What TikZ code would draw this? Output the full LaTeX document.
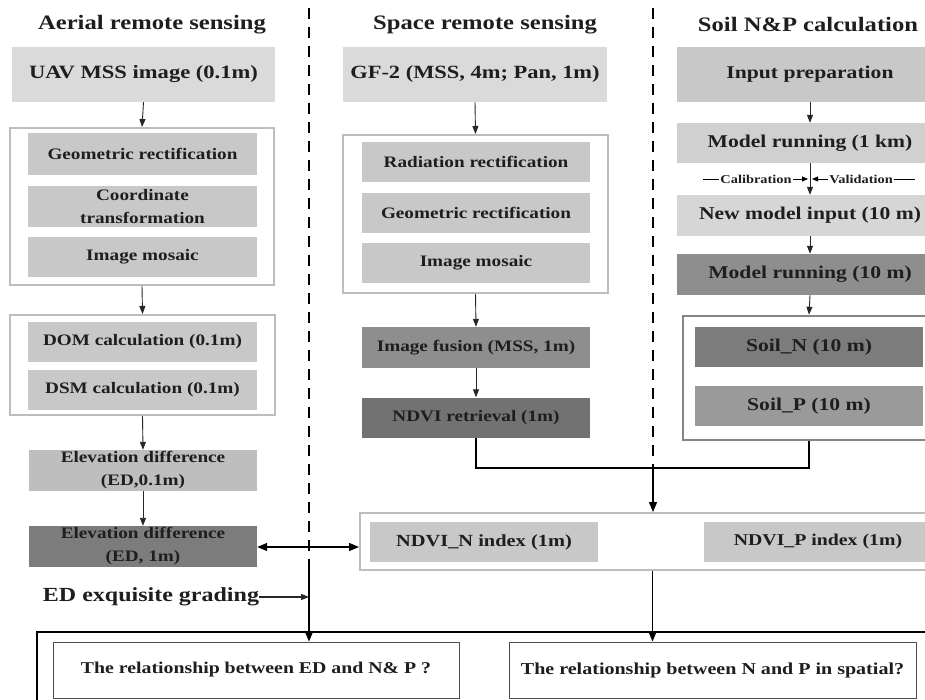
\documentclass[tikz,border=0pt]{standalone}
\usepackage{fontspec}
\setmainfont{Liberation Serif}[FakeStretch=1.2]
\usetikzlibrary{arrows.meta,calc}
\definecolor{txt}{HTML}{1E1E1E}
\definecolor{gA}{HTML}{DADADA}
\definecolor{gB}{HTML}{C8C8C8}
\definecolor{gC}{HTML}{BEBEBE}
\definecolor{gD}{HTML}{8E8E8E}
\definecolor{gE}{HTML}{727272}
\definecolor{gF}{HTML}{7C7C7C}
\definecolor{gG}{HTML}{9A9A9A}
\definecolor{grpc}{HTML}{BDBDBD}
\definecolor{grpd}{HTML}{858585}
\tikzset{
  box/.style={draw=none, inner sep=0pt, align=center, text=txt,
    font=\fontsize{16}{19}\selectfont\bfseries},
  bigbox/.style={box, font=\fontsize{18}{21}\selectfont\bfseries},
  grp/.style={draw=grpc, line width=2pt, inner sep=0pt},
  hdr/.style={inner sep=0pt, text=txt, font=\fontsize{20.5}{24}\selectfont\bfseries},
  qbox/.style={draw=black!70, line width=0.9pt, inner sep=0pt, text=txt,
    font=\fontsize{16.5}{19}\selectfont\bfseries},
  arr/.style={draw=black!85, line width=0.9pt, -{Triangle[length=8pt,width=6pt]}},
  bigarr/.style={draw=black, line width=1.4pt, -{Triangle[length=10pt,width=8pt]}},
  dline/.style={draw=black, line width=1.3pt, dash pattern=on 11pt off 8pt},
  small/.style={inner sep=1pt, text=txt, font=\fontsize{12}{14}\selectfont\bfseries},
  twoline/.style={font=\fontsize{16}{23}\selectfont\bfseries}
}
\begin{document}
\begin{tikzpicture}[x=1pt,y=-1pt]
\useasboundingbox (0,0) rectangle (925,700);
\clip (0,0) rectangle (925,700);
\fill[white] (0,0) rectangle (925,700);

% headers
\node[hdr] (h1) at (152,25) {Aerial remote sensing};
\node[hdr] (h2) at (485,25) {Space remote sensing};
\node[hdr] (h3) at (808,25) {Soil N\&P calculation};

% dashed separators
\coordinate (d1top) at (309,8);
\coordinate (d1mid) at (309,567);
\coordinate (d2top) at (653,8);
\coordinate (d2j) at (653,468);
\draw[dline] (d1top) -- (d1mid);
\draw[dline] (d2top) -- (d2j);

% ---------- left column ----------
\node[bigbox, fill=gA, minimum width=263, minimum height=55, font=\fontsize{18.8}{22}\selectfont\bfseries] (uav) at (143.5,74.5) {UAV MSS image (0.1m)};
\node[grp, minimum width=264, minimum height=157] (grp1) at (142,206.5) {};
\node[box, fill=gB, minimum width=229, minimum height=42] (geo1) at (142.5,154) {Geometric rectification};
\node[box, fill=gB, minimum width=229, minimum height=41, twoline] (coord) at (142.5,206.5) {Coordinate\\transformation};
\node[box, fill=gB, minimum width=229, minimum height=40] (mos1) at (142.5,257) {Image mosaic};
\node[grp, minimum width=265, minimum height=100] (grp2) at (142.5,365) {};
\node[box, fill=gB, minimum width=229, minimum height=40] (dom) at (142.5,342) {DOM calculation (0.1m)};
\node[box, fill=gB, minimum width=229, minimum height=40] (dsm) at (142.5,390) {DSM calculation (0.1m)};
\node[box, fill=gC, minimum width=228, minimum height=41, twoline] (ed01) at (143,470.5) {Elevation difference\\(ED,0.1m)};
\node[box, fill=gF, minimum width=228, minimum height=41, twoline] (ed1) at (143,546.5) {Elevation difference\\(ED, 1m)};
\node[hdr, font=\fontsize{20}{24}\selectfont\bfseries] (edg) at (151,597) {ED exquisite grading};

% ---------- middle column ----------
\node[bigbox, fill=gA, minimum width=264, minimum height=55, font=\fontsize{18.7}{22}\selectfont\bfseries] (gf2) at (475,74.5) {GF-2 (MSS, 4m; Pan, 1m)};
\node[grp, minimum width=265, minimum height=158] (grp3) at (475.5,214) {};
\node[box, fill=gB, minimum width=228, minimum height=40] (rad) at (476,162) {Radiation rectification};
\node[box, fill=gB, minimum width=228, minimum height=40] (geo2) at (476,213) {Geometric rectification};
\node[box, fill=gB, minimum width=228, minimum height=40] (mos2) at (476,263) {Image mosaic};
\node[box, fill=gD, minimum width=228, minimum height=41] (fus) at (476,347.5) {Image fusion (MSS, 1m)};
\node[box, fill=gE, minimum width=228, minimum height=40] (ndvir) at (476,417.5) {NDVI retrieval (1m)};

% ---------- right column ----------
\node[bigbox, fill=gB, minimum width=266, minimum height=55] (inp) at (810,74.5) {Input preparation};
\node[bigbox, fill=gB!85!white, minimum width=266, minimum height=40] (mr1) at (810,143) {Model running (1 km)};
\node[bigbox, fill=gB!75!white, minimum width=266, minimum height=41] (nmi) at (810,215.5) {New model input (10 m)};
\node[bigbox, fill=gD, minimum width=266, minimum height=41] (mr10) at (810,274.5) {Model running (10 m)};
\node[grp, draw=grpd, line width=2.5pt, minimum width=252, minimum height=124] (grp4) at (809,378) {};
\node[bigbox, fill=gF, minimum width=228, minimum height=40] (soiln) at (809,347) {Soil\_N (10 m)};
\node[bigbox, fill=gG, minimum width=228, minimum height=40] (soilp) at (809,406) {Soil\_P (10 m)};

\node[small] (cal) at (756,179) {Calibration};
\node[small] (val) at (861,179) {Validation};
\coordinate (calL) at (703,179);
\coordinate (valR) at (915,179);
\coordinate (calT) at (808,179);
\coordinate (valT) at (812,179);

% ---------- NDVI index group ----------
\node[grp, minimum width=585, minimum height=57] (ngrp) at (652.5,541.5) {};
\node[box, fill=gB, minimum width=228, minimum height=40, font=\fontsize{17}{20}\selectfont\bfseries] (ndvin) at (484,542) {NDVI\_N index (1m)};
\node[box, fill=gB, minimum width=228, minimum height=40, font=\fontsize{16.5}{20}\selectfont\bfseries] (ndvip) at (818,542) {NDVI\_P index (1m)};

% ---------- bottom ----------
\node[draw=black, line width=2.4pt, minimum width=913, minimum height=88, inner sep=0pt] (outer) at (493.5,676) {};
\node[qbox, minimum width=406, minimum height=56] (q1) at (256,670) {The relationship between ED and N\& P ?};
\node[qbox, minimum width=407, minimum height=56, font=\fontsize{16.7}{19}\selectfont\bfseries] (q2) at (712.5,670) {The relationship between N and P in spatial?};

% ---------- connectors ----------
\draw[arr] (uav.south) -- (grp1.north);
\draw[arr] (grp1.south) -- (grp2.north);
\draw[arr] (grp2.south) -- (ed01.north);
\draw[arr] (ed01.south) -- (ed1.north);

\draw[arr] (gf2.south) -- (grp3.north);
\draw[arr] (grp3.south) -- (fus.north);
\draw[arr] (fus.south) -- (ndvir.north);

\draw[arr] (inp.south) -- (mr1.north);
\draw[arr] (mr1.south) -- (nmi.north);
\draw[arr] (nmi.south) -- (mr10.north);
\draw[arr] (mr10.south) -- (grp4.north);

\draw[black, line width=0.8pt] (calL) -- (cal.west);
\draw[black, line width=0.8pt, -{Triangle[length=6pt,width=5pt]}] (cal.east) -- (calT);
\draw[black, line width=0.8pt, -{Triangle[length=6pt,width=5pt]}] (val.west) -- (valT);
\draw[black, line width=0.8pt] (val.east) -- (valR);

\draw[black, line width=1.3pt] (ndvir.south) |- (d2j) -| (grp4.south);
\draw[bigarr] (d2j) -- (d2j |- ngrp.north);

\draw[bigarr, {Triangle[length=10pt,width=8pt]}-{Triangle[length=10pt,width=8pt]}] (ed1.east |- 0,547) -- (ngrp.west |- 0,547);
\draw[arr, line width=1.1pt] (edg.east) -- (edg.east -| d1mid);
\draw[bigarr] (d1mid) -- (d1mid |- q1.north);
\draw[bigarr] (ngrp.south) -- (ngrp.south |- q2.north);
\end{tikzpicture}
\end{document}
